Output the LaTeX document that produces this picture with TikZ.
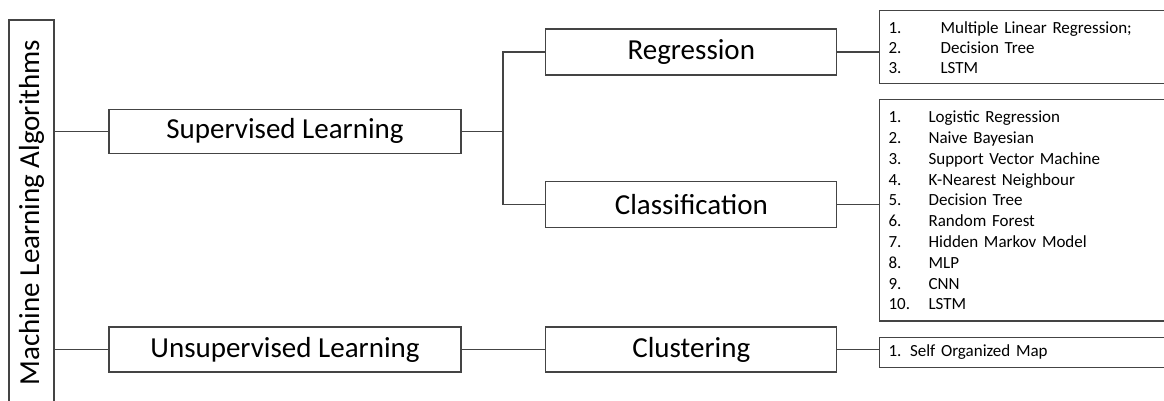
\documentclass[tikz,border=0pt]{standalone}
\usepackage{fontspec}
\setmainfont{Carlito}
\definecolor{linec}{RGB}{68,68,68}
\begin{document}
\begin{tikzpicture}[x=1pt,y=-1pt,
  frame/.style={draw=linec, line width=1.2pt, inner sep=0pt},
  catbox/.style={frame, font=\fontsize{29}{34}\selectfont},
  listbox/.style={frame, anchor=north west, minimum width=300pt, align=left,
    text width=282pt, inner xsep=9pt, font=\fontsize{17}{20.8}\selectfont},
  link/.style={draw=linec, line width=1.2pt}]
\clip (0,0) rectangle (1164,401);

% root
\node[catbox, rotate=90, minimum width=385pt, minimum height=45pt] (ml) at (31.5,212.5)
  {Machine Learning Algorithms};

% learning types
\node[catbox, minimum width=352pt, minimum height=44pt] (sup) at (285,131.3) {Supervised Learning};
\node[catbox, minimum width=352pt, minimum height=45pt] (uns) at (285,349.5) {Unsupervised Learning};

% tasks
\node[catbox, minimum width=291pt, minimum height=46pt] (reg) at (691.3,52) {Regression};
\node[catbox, minimum width=291pt, minimum height=46pt] (cls) at (691.3,204.7) {Classification};
\node[catbox, minimum width=291pt, minimum height=45pt] (clu) at (691.3,349.5) {Clustering};

% algorithm lists
\node[listbox, minimum height=73.3pt, font=\fontsize{17}{20}\selectfont] (rlist) at (879,10)
  {\makebox[52pt][l]{1.}Multiple Linear Regression;\\
   \makebox[52pt][l]{2.}Decision Tree\\
   \makebox[52pt][l]{3.}LSTM};
\node[listbox, minimum height=221pt] (clist) at (879,99.3)
  {\makebox[40pt][l]{1.}Logistic Regression\\
   \makebox[40pt][l]{2.}Naive Bayesian\\
   \makebox[40pt][l]{3.}Support Vector Machine\\
   \makebox[40pt][l]{4.}K-Nearest Neighbour\\
   \makebox[40pt][l]{5.}Decision Tree\\
   \makebox[40pt][l]{6.}Random Forest\\
   \makebox[40pt][l]{7.}Hidden Markov Model\\
   \makebox[40pt][l]{8.}MLP\\
   \makebox[40pt][l]{9.}CNN\\
   \makebox[40pt][l]{10.}LSTM};
\node[listbox, minimum height=30pt] (ulist) at (879,336.7) {1. Self Organized Map};

% connectors
\draw[link] (ml.south |- sup.west) -- (sup.west);
\draw[link] (ml.south |- uns.west) -- (uns.west);
\coordinate (j) at (503,131.3);
\draw[link] (sup.east) -- (j);
\draw[link] (reg.west) -- (reg.west -| j) -- (cls.west -| j) -- (cls.west);
\draw[link] (uns.east) -- (clu.west);
\draw[link] (reg.east) -- (reg.east -| rlist.west);
\draw[link] (cls.east) -- (cls.east -| clist.west);
\draw[link] (clu.east) -- (clu.east -| ulist.west);
\end{tikzpicture}
\end{document}
